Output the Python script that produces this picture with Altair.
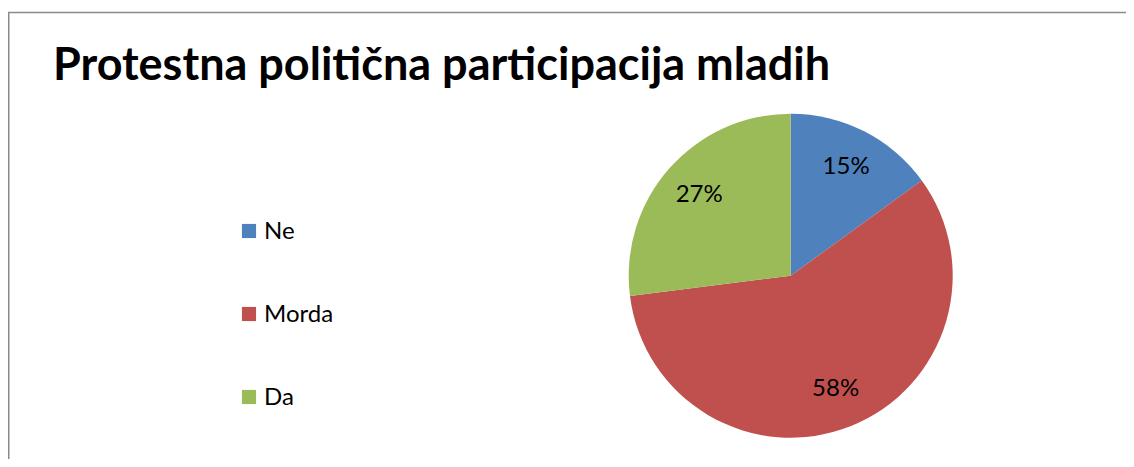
import altair as alt
import pandas as pd

categories = ["Ne", "Morda", "Da"]
values = [15, 58, 27]
labels = ["15%", "58%", "27%"]
colors = ["#4F81BD", "#C0504D", "#9BBB59"]
title_text = "Protestna politična participacija mladih"

df = pd.DataFrame({"cat": categories, "value": values, "label": labels,
                   "idx": list(range(len(categories)))})

W, H = 1118, 451
CX, CY = 782.7, 267.7
FONT = "Lato"

color = alt.Color("cat:N", scale=alt.Scale(domain=categories, range=colors), legend=None)
order = alt.Order("idx:Q")
theta = alt.Theta("value:Q", stack=True)

base = alt.Chart(df)

pie = base.mark_arc(outerRadius=162, strokeWidth=0).encode(
    theta=theta, color=color, order=order, x=alt.value(CX), y=alt.value(CY)
)

pie_labels = base.mark_text(radius=122, fontSize=24, font=FONT, color="black").encode(
    theta=theta, text="label:N", order=order, x=alt.value(CX), y=alt.value(CY)
)

legend_y = alt.Y("cat:N", scale=alt.Scale(domain=categories, range=[223, 389], padding=0), axis=None)

leg_sym = base.mark_square(size=200, opacity=1).encode(
    x=alt.value(241), y=legend_y, color=color
)
leg_txt = base.mark_text(align="left", baseline="middle", fontSize=24, font=FONT, color="black", dy=1).encode(
    x=alt.value(256), y=legend_y, text="cat:N"
)

title = alt.Chart(pd.DataFrame({"t": [title_text]})).mark_text(
    align="left", baseline="alphabetic", fontSize=45, fontWeight="bold", font=FONT, color="black"
).encode(x=alt.value(45), y=alt.value(72), text="t:N")

border_top = alt.Chart(pd.DataFrame({"a": [0]})).mark_rule(color="#8a8a8a", strokeWidth=1.5).encode(
    x=alt.value(0), x2=alt.value(W), y=alt.value(4.5)
)
border_left = alt.Chart(pd.DataFrame({"a": [0]})).mark_rule(color="#8a8a8a", strokeWidth=1.5).encode(
    x=alt.value(0.75), y=alt.value(4), y2=alt.value(H)
)

chart = alt.layer(border_top, border_left, pie, pie_labels, leg_sym, leg_txt, title).properties(
    width=W, height=H, padding=0, autosize=alt.AutoSizeParams(type="none")
).configure_view(stroke=None)

chart.save("out.html", embed_options={"renderer": "svg", "actions": False})
